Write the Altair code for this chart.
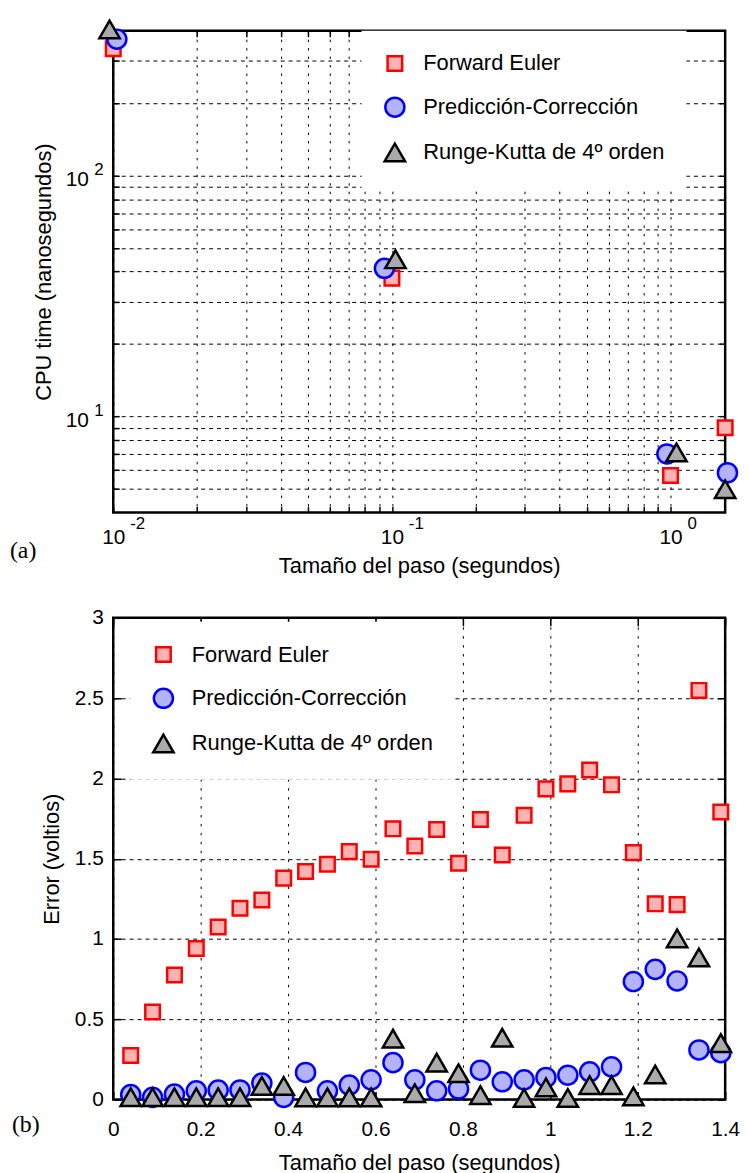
import altair as alt
import pandas as pd

FONT = "Liberation Sans"
SERIF = "Liberation Serif"

methods = ["Forward Euler", "Predicción-Corrección", "Runge-Kutta de 4º orden"]
fills = ["#FFB3B3", "#B3B3FF", "#AAAAAA"]
strokes = ["#FF0000", "#0000FF", "#000000"]
shapes = ["square", "circle", "triangle-up"]
sizes = [215, 370, 420]

# ---------------- panel (a): CPU time vs step size (log-log) ----------------
a_fe_x = [0.01, 0.1, 1.0, 1.57]
a_fe_y = [337, 37.6, 5.7, 9.0]
a_pc_x = [0.0103, 0.094, 0.97, 1.6]
a_pc_y = [369, 41.3, 7.0, 5.85]
a_rk_x = [0.0097, 0.103, 1.05, 1.57]
a_rk_y = [405, 45, 7.1, 5.0]

a_x_grid = [0.01, 0.02, 0.03, 0.04, 0.05, 0.06, 0.07, 0.08, 0.09,
            0.1, 0.2, 0.3, 0.4, 0.5, 0.6, 0.7, 0.8, 0.9, 1.0]
a_y_grid = [5, 6, 7, 8, 9, 10, 20, 30, 40, 50, 60, 70, 80, 90, 100, 200, 300]
a_x_major = [0.01, 0.1, 1.0]
a_x_exp = ["-2", "-1", "0"]
a_y_major = [10, 100]
a_y_exp = ["1", "2"]

# ---------------- panel (b): error vs step size ----------------
b_x = [0.04, 0.09, 0.14, 0.19, 0.24, 0.29, 0.34, 0.39, 0.44, 0.49,
       0.54, 0.59, 0.64, 0.69, 0.74, 0.79, 0.84, 0.89, 0.94, 0.99,
       1.04, 1.09, 1.14, 1.19, 1.24, 1.29, 1.34, 1.39]
b_fe = [0.275, 0.545, 0.776, 0.941, 1.075, 1.192, 1.243, 1.379, 1.42, 1.466,
        1.544, 1.497, 1.686, 1.579, 1.682, 1.472, 1.744, 1.523, 1.770, 1.935,
        1.966, 2.052, 1.96, 1.538, 1.219, 1.214, 2.548, 1.791]
b_pc = [0.031, 0.014, 0.034, 0.055, 0.059, 0.06, 0.103, 0.014, 0.169, 0.055,
        0.09, 0.123, 0.230, 0.123, 0.055, 0.066, 0.183, 0.111, 0.123, 0.138,
        0.152, 0.173, 0.204, 0.735, 0.811, 0.739, 0.309, 0.292]
b_rk = [0.015, 0.015, 0.015, 0.015, 0.015, 0.015, 0.085, 0.085, 0.014, 0.014,
        0.014, 0.014, 0.380, 0.04, 0.23, 0.164, 0.028, 0.385, 0.01, 0.076,
        0.01, 0.09, 0.09, 0.02, 0.156, 1.004, 0.885, 0.352]
b_x_ticks = [0, 0.2, 0.4, 0.6, 0.8, 1, 1.2, 1.4]
b_y_ticks = [0, 0.5, 1, 1.5, 2, 2.5, 3]

W, H = 616, 485


def long_df(xs_list, ys_list):
    rows = []
    for m, xs, ys in zip(methods, xs_list, ys_list):
        for x, y in zip(xs, ys):
            rows.append({"x": x, "y": y, "method": m})
    return pd.DataFrame(rows)


df_a = long_df([a_fe_x, a_pc_x, a_rk_x], [a_fe_y, a_pc_y, a_rk_y])
df_b = long_df([b_x, b_x, b_x], [b_fe, b_pc, b_rk])


def legend(lx, ly):
    return alt.Legend(title=None, orient="none", legendX=lx, legendY=ly,
                      fillColor="white", padding=22, labelFont=FONT,
                      labelFontSize=22, labelColor="black", labelOffset=17,
                      rowPadding=16, symbolStrokeWidth=2.5, labelLimit=400,
                      symbolOpacity=1)


def point_layer(df, xenc, yenc, lx, ly):
    leg = legend(lx, ly)
    return alt.Chart(df).mark_point(filled=True, opacity=1, strokeWidth=2.5).encode(
        x=xenc, y=yenc,
        fill=alt.Fill("method:N", scale=alt.Scale(domain=methods, range=fills), legend=leg),
        stroke=alt.Stroke("method:N", scale=alt.Scale(domain=methods, range=strokes), legend=leg),
        shape=alt.Shape("method:N", scale=alt.Scale(domain=methods, range=shapes), legend=leg),
        size=alt.Size("method:N", scale=alt.Scale(type="ordinal", domain=methods, range=sizes), legend=leg),
    )


def tick_layer(df, xscale, yscale, xvals, yvals, xorient, yorient, L):
    common = dict(labels=False, domain=False, grid=False, ticks=True,
                  tickColor="black", tickWidth=1.5, tickSize=L, offset=-L, title=None)
    return alt.Chart(df).mark_point(opacity=0).encode(
        x=alt.X("x:Q", scale=xscale, axis=alt.Axis(orient=xorient, values=xvals, **common)),
        y=alt.Y("y:Q", scale=yscale, axis=alt.Axis(orient=yorient, values=yvals, **common)),
    )


dec_expr = "abs(log(datum.value)/LN10 - round(log(datum.value)/LN10)) < 0.001 ? '10' : ''"

# ----- panel (a) -----
xs_a = alt.Scale(type="log", domain=[0.01, 1.57], nice=False)
ys_a = alt.Scale(type="log", domain=[4, 400], nice=False)

xa_axis = alt.Axis(values=a_x_grid, labelExpr=dec_expr, grid=True, gridDash=[2.5, 6],
                   ticks=False, labelPadding=14, labelFontSize=21,
                   title="Tamaño del paso (segundos)", titlePadding=8,
                   minExtent=35, maxExtent=35)
ya_axis = alt.Axis(values=a_y_grid, labelExpr=dec_expr, grid=True, gridDash=[4, 4],
                   ticks=False, labelPadding=25, labelFontSize=21, labelOffset=4,
                   title="CPU time (nanosegundos)", titlePadding=10,
                   minExtent=48, maxExtent=48)

pts_a = point_layer(df_a, alt.X("x:Q", scale=xs_a, axis=xa_axis),
                    alt.Y("y:Q", scale=ys_a, axis=ya_axis), 250, 0)

df_ax = pd.DataFrame({"x": a_x_major, "e": a_x_exp})
exp_x_a = alt.Chart(df_ax).mark_text(align="left", baseline="alphabetic", dx=17,
                                     font=FONT, fontSize=17, color="black").encode(
    x=alt.X("x:Q", scale=xs_a, axis=None), y=alt.value(H + 17), text="e:N")
df_ay = pd.DataFrame({"y": a_y_major, "e": a_y_exp})
exp_y_a = alt.Chart(df_ay).mark_text(align="left", baseline="alphabetic", dy=-1,
                                     font=FONT, fontSize=17, color="black").encode(
    y=alt.Y("y:Q", scale=ys_a, axis=None), x=alt.value(-19), text="e:N")

lab_a = alt.Chart(pd.DataFrame({"t": ["(a)"]})).mark_text(
    align="left", baseline="middle", font=SERIF, fontSize=24, color="black").encode(
    x=alt.value(-104), y=alt.value(524), text="t:N")

ticks_a1 = tick_layer(df_a, xs_a, ys_a, a_x_grid, a_y_grid, "top", "right", 6)
ticks_a2 = tick_layer(df_a, xs_a, ys_a, a_x_grid, a_y_grid, "bottom", "left", 6)

panel_a = alt.layer(pts_a, ticks_a1, ticks_a2, exp_x_a, exp_y_a, lab_a).resolve_axis(
    x="independent", y="independent").properties(width=W, height=H)

# ----- panel (b) -----
xs_b = alt.Scale(domain=[0, 1.4], nice=False)
ys_b = alt.Scale(domain=[0, 3], nice=False)

xb_axis = alt.Axis(values=b_x_ticks, format="~g", grid=True, gridDash=[2.5, 6.5],
                   ticks=False, labelPadding=19, labelFontSize=21,
                   title="Tamaño del paso (segundos)", titlePadding=13,
                   minExtent=40, maxExtent=40)
yb_axis = alt.Axis(values=b_y_ticks, format="~g", grid=True, gridDash=[4, 4],
                   ticks=False, labelPadding=10, labelFontSize=21,
                   title="Error (voltios)", titlePadding=10,
                   minExtent=40, maxExtent=40)

pts_b = point_layer(df_b, alt.X("x:Q", scale=xs_b, axis=xb_axis),
                    alt.Y("y:Q", scale=ys_b, axis=yb_axis), 17, 4)

lab_b = alt.Chart(pd.DataFrame({"t": ["(b)"]})).mark_text(
    align="left", baseline="middle", font=SERIF, fontSize=24, color="black").encode(
    x=alt.value(-102), y=alt.value(511), text="t:N")

ticks_b1 = tick_layer(df_b, xs_b, ys_b, b_x_ticks, b_y_ticks, "top", "right", 8)
ticks_b2 = tick_layer(df_b, xs_b, ys_b, b_x_ticks, b_y_ticks, "bottom", "left", 8)

panel_b = alt.layer(pts_b, ticks_b1, ticks_b2, lab_b).resolve_axis(
    x="independent", y="independent").properties(width=W, height=H)

chart = alt.vconcat(panel_a, panel_b, spacing=106, bounds="flush").resolve_scale(
    fill="independent", stroke="independent", shape="independent", size="independent"
).resolve_legend(
    fill="independent", stroke="independent", shape="independent", size="independent"
).properties(
    padding={"left": 8, "top": 10, "right": 5, "bottom": 2}
).configure_view(
    stroke="black", strokeWidth=2.5
).configure_axis(
    labelFont=FONT, labelColor="black", titleFont=FONT, titleColor="black",
    titleFontSize=22, titleFontWeight="normal", gridColor="black", gridOpacity=1,
    gridWidth=1, domain=False, labelFlush=False, labelOverlap=False
)

chart.save("out.html", embed_options={"renderer": "svg", "actions": False})
